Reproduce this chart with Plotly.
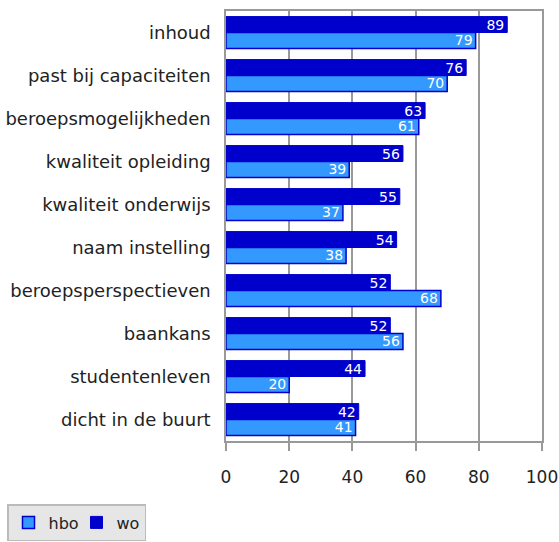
import plotly.graph_objects as go

categories = ["inhoud", "past bij capaciteiten", "beroepsmogelijkheden", "kwaliteit opleiding",
              "kwaliteit onderwijs", "naam instelling", "beroepsperspectieven", "baankans",
              "studentenleven", "dicht in de buurt"]
wo = [89, 76, 63, 56, 55, 54, 52, 52, 44, 42]
hbo = [79, 70, 61, 39, 37, 38, 68, 56, 20, 41]
x_ticks = [0, 20, 40, 60, 80, 100]

font_family = "DejaVu Sans"
fig = go.Figure()
fig.add_trace(go.Bar(
    y=categories, x=hbo, name="hbo", orientation="h",
    marker=dict(color="#3399FF", line=dict(color="#0000CC", width=1.5)),
    text=hbo, textposition="inside", insidetextanchor="end",
    textfont=dict(color="white", size=14, family=font_family),
))
fig.add_trace(go.Bar(
    y=categories, x=wo, name="wo", orientation="h",
    marker=dict(color="#0000CC", line=dict(color="#0000CC", width=1)),
    text=wo, textposition="inside", insidetextanchor="end",
    textfont=dict(color="white", size=14, family=font_family),
))

fig.update_layout(
    width=559, height=542,
    barmode="group", bargap=0.26, bargroupgap=0,
    plot_bgcolor="white", paper_bgcolor="white",
    margin=dict(l=226, r=17, t=11, b=101, autoexpand=False),
    font=dict(family=font_family, size=17, color="#222222"),
    showlegend=True,
    legend=dict(orientation="h", xref="container", yref="container",
                x=7 / 559, y=1 - 504 / 542, xanchor="left", yanchor="top",
                bgcolor="#E6E6E6", bordercolor="#BBBBBB", borderwidth=1.5,
                font=dict(size=16), traceorder="normal", itemwidth=30,
                entrywidth=23, entrywidthmode="pixels"),
    uniformtext=dict(mode="show", minsize=12),
)
fig.update_xaxes(range=[0, 100], tickvals=x_ticks, showgrid=True, gridcolor="#999999", gridwidth=1.5,
                 showline=True, linecolor="#999999", linewidth=1.5, mirror=True,
                 ticks="outside", ticklen=8, tickcolor="#999999", tickwidth=1.5,
                 ticklabelstandoff=12, tickfont=dict(size=17), zeroline=False, automargin=False)
fig.update_yaxes(categoryorder="array", categoryarray=categories[::-1],
                 showline=True, linecolor="#999999", linewidth=1.5, mirror=True,
                 ticks="", ticklabelstandoff=10, tickfont=dict(size=18), automargin=False)

fig.write_html("out.html", config={"displayModeBar": False},
               post_script="document.body.style.margin='0';")
